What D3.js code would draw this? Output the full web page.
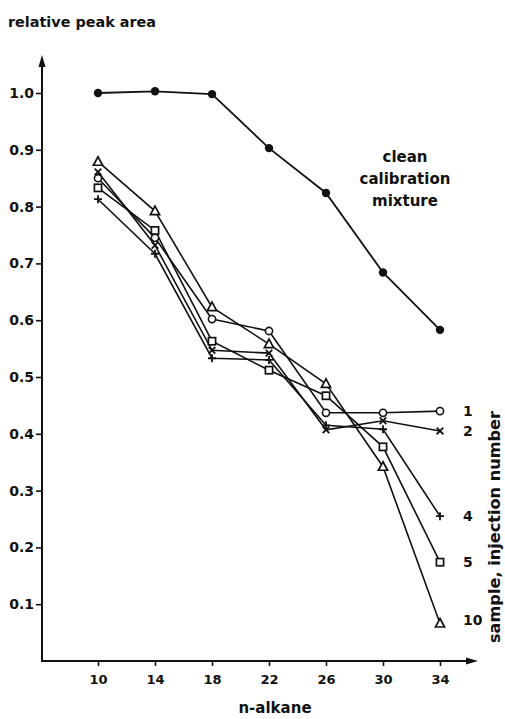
<!DOCTYPE html>
<html>
<head>
<meta charset="utf-8">
<script src="https://cdn.jsdelivr.net/npm/d3@7"></script>
<style>
  html, body { margin: 0; padding: 0; background: #fff; }
  svg { display: block; }
  text { font-family: "DejaVu Sans", sans-serif; font-weight: bold; fill: #111; }
</style>
</head>
<body>
<svg id="chart" width="505" height="719"></svg>
<script>
// ---- data ----
const alkanes = [10, 14, 18, 22, 26, 30, 34];
const yTicks = [0.1, 0.2, 0.3, 0.4, 0.5, 0.6, 0.7, 0.8, 0.9, 1.0];
const cleanMix = [1.0, 1.003, 0.998, 0.903, 0.824, 0.684, 0.583];
const inj1 = [0.85, 0.745, 0.602, 0.581, 0.437, 0.437, 0.44];
const inj2 = [0.861, 0.732, 0.547, 0.542, 0.407, 0.423, 0.405];
const inj4 = [0.813, 0.717, 0.533, 0.53, 0.415, 0.408, 0.255];
const inj5 = [0.833, 0.758, 0.563, 0.512, 0.467, 0.377, 0.174];
const inj10 = [0.879, 0.792, 0.623, 0.558, 0.488, 0.342, 0.066];
const seriesNames = ["1", "2", "4", "5", "10"];
const seriesMarkers = ["circle", "cross", "plus", "square", "triangle"];
const seriesValues = [inj1, inj2, inj4, inj5, inj10];

// ---- chart ----
const svg = d3.select("#chart");
const x = d3.scaleLinear().domain([10, 34]).range([98, 440]);
const y = d3.scaleLinear().domain([0, 1]).range([661, 93]);
const axisX0 = 42, axisXEnd = 478, axisYTop = 55;
const ink = "#111";
const FONT = "DejaVu Sans, sans-serif";

// axes lines with arrows
svg.append("line").attr("x1", axisX0).attr("x2", axisX0)
  .attr("y1", y(0)).attr("y2", axisYTop + 8)
  .attr("stroke", ink).attr("stroke-width", 2);
svg.append("path").attr("d", `M${axisX0},${axisYTop} L${axisX0-3.5},${axisYTop+12} L${axisX0+3.5},${axisYTop+12} Z`).attr("fill", ink);
svg.append("line").attr("x1", axisX0 - 1).attr("x2", axisXEnd - 8)
  .attr("y1", y(0)).attr("y2", y(0))
  .attr("stroke", ink).attr("stroke-width", 2);
svg.append("path").attr("d", `M${axisXEnd},${y(0)} L${axisXEnd-12},${y(0)-3.5} L${axisXEnd-12},${y(0)+3.5} Z`).attr("fill", ink);

// y axis ticks
const yAxis = d3.axisLeft(y).tickValues(yTicks).tickSize(6).tickPadding(2)
  .tickFormat(d3.format(".1f"));
const gy = svg.append("g").attr("transform", `translate(${axisX0},0)`).call(yAxis);
gy.select(".domain").remove();
gy.selectAll(".tick line").attr("stroke", ink).attr("stroke-width", 1.6);
gy.selectAll(".tick text").attr("font-size", 14).attr("font-family", FONT)
  .attr("font-weight", "bold").attr("fill", ink);

// x axis ticks
const xAxis = d3.axisBottom(x).tickValues(alkanes).tickSize(5).tickPadding(9)
  .tickFormat(d3.format("d"));
const gx = svg.append("g").attr("transform", `translate(0,${y(0)})`).call(xAxis);
gx.select(".domain").remove();
gx.selectAll(".tick line").attr("stroke", ink).attr("stroke-width", 1.6);
gx.selectAll(".tick text").attr("font-size", 13).attr("font-family", FONT)
  .attr("font-weight", "bold").attr("fill", ink);

// titles
svg.append("text").attr("x", 8).attr("y", 27).attr("font-size", 14)
  .attr("textLength", 148).attr("lengthAdjust", "spacingAndGlyphs").text("relative peak area");
svg.append("text").attr("x", 275).attr("y", 713).attr("font-size", 15)
  .attr("text-anchor", "middle").text("n-alkane");

// line generator
const line = d3.line().x((d, i) => x(alkanes[i])).y(d => y(d));

// clean calibration mixture
svg.append("path").datum(cleanMix).attr("d", line)
  .attr("fill", "none").attr("stroke", ink).attr("stroke-width", 1.8);
svg.selectAll(".cleanpt").data(cleanMix).join("circle")
  .attr("cx", (d, i) => x(alkanes[i])).attr("cy", d => y(d)).attr("r", 4.2).attr("fill", ink);
const cl = svg.append("text").attr("font-size", 15).attr("text-anchor", "middle");
["clean", "calibration", "mixture"].forEach((t, i) => {
  cl.append("tspan").attr("x", 405).attr("y", 162 + i * 22).text(t);
});

// sample lines
seriesValues.forEach(vals => {
  svg.append("path").datum(vals).attr("d", line)
    .attr("fill", "none").attr("stroke", ink).attr("stroke-width", 1.6);
});

function drawMarker(g, type, cx, cy) {
  if (type === "circle") {
    g.append("circle").attr("cx", cx).attr("cy", cy).attr("r", 3.6)
      .attr("fill", "#fff").attr("stroke", ink).attr("stroke-width", 1.6);
  } else if (type === "square") {
    g.append("rect").attr("x", cx - 3.6).attr("y", cy - 3.6).attr("width", 7.2).attr("height", 7.2)
      .attr("fill", "#fff").attr("stroke", ink).attr("stroke-width", 1.7);
  } else if (type === "triangle") {
    g.append("path").attr("d", `M${cx},${cy-5} L${cx+4.6},${cy+3.5} L${cx-4.6},${cy+3.5} Z`)
      .attr("fill", "#fff").attr("stroke", ink).attr("stroke-width", 1.7);
  } else if (type === "cross") {
    g.append("path").attr("d", `M${cx-3.3},${cy-3.3} L${cx+3.3},${cy+3.3} M${cx-3.3},${cy+3.3} L${cx+3.3},${cy-3.3}`)
      .attr("stroke", ink).attr("stroke-width", 1.8);
  } else if (type === "plus") {
    g.append("path").attr("d", `M${cx-4},${cy} L${cx+4},${cy} M${cx},${cy-4} L${cx},${cy+4}`)
      .attr("stroke", ink).attr("stroke-width", 1.8);
  }
}

const mg = svg.append("g");
seriesValues.forEach((vals, s) => {
  vals.forEach((v, i) => drawMarker(mg, seriesMarkers[s], x(alkanes[i]), y(v)));
});

// series labels at right
const labelOffsets = [0, 0, 0, 0, -4];
seriesValues.forEach((vals, s) => {
  svg.append("text").attr("x", 463).attr("y", y(vals[vals.length - 1]) + 5 + labelOffsets[s])
    .attr("font-size", 14).text(seriesNames[s]);
});

svg.append("text").attr("transform", "translate(500,527) rotate(-90)")
  .attr("font-size", 15).attr("text-anchor", "middle")
  .attr("textLength", 232).attr("lengthAdjust", "spacingAndGlyphs")
  .text("sample, injection number");
</script>
</body>
</html>
